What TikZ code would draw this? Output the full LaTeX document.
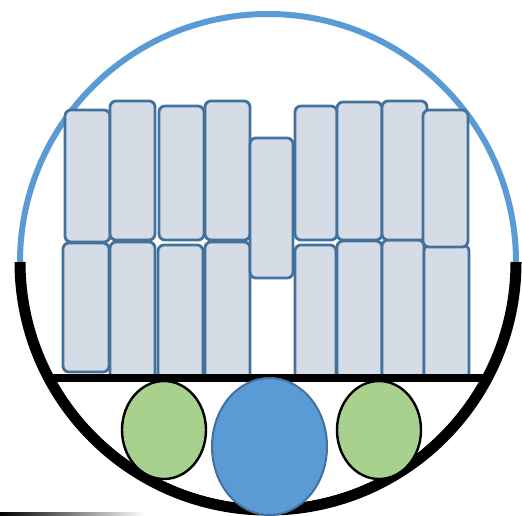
\documentclass[tikz,border=0pt]{standalone}
\definecolor{arcblue}{HTML}{5B9BD5}
\definecolor{cellfill}{HTML}{D6DCE5}
\definecolor{cellborder}{HTML}{41719C}
\definecolor{cellgreen}{HTML}{A9D18E}
\definecolor{nucblue}{HTML}{5B9BD5}
\begin{document}
\begin{tikzpicture}[x=1pt,y=-1pt,
  cellbox/.style={draw=cellborder, fill=cellfill, line width=2.8pt, rounded corners=6pt},
  greenell/.style={draw=black, fill=cellgreen, line width=2.4pt},
  blueell/.style={draw=cellborder, fill=nucblue, line width=2pt}]
\useasboundingbox (0,0) rectangle (522,515);
% outer circle
\draw[arcblue, line width=6pt] (20,262) arc[start angle=180, end angle=0, radius=248pt];
\draw[black, line width=11pt] (20,262) arc[start angle=180, end angle=360, radius=248pt];
% bottom row of cells
\draw[cellbox] (63,243) rectangle (109,372);
\draw[cellbox] (110,242) rectangle (155,386);
\draw[cellbox] (158,245) rectangle (203,386);
\draw[cellbox] (205,242) rectangle (250,386);
\draw[cellbox] (295,245) rectangle (336,386);
\draw[cellbox] (337,241) rectangle (382,386);
\draw[cellbox] (382,240) rectangle (424,386);
\draw[cellbox] (424,245) rectangle (469,386);
% top row of cells
\draw[cellbox] (65,110) rectangle (110,242);
\draw[cellbox] (110,101) rectangle (155,240);
\draw[cellbox] (159,106) rectangle (204,240);
\draw[cellbox] (205,101) rectangle (250,240);
\draw[cellbox] (250,138) rectangle (293,278);
\draw[cellbox] (295,106) rectangle (337,240);
\draw[cellbox] (337,102) rectangle (382,240);
\draw[cellbox] (382,101) rectangle (427,240);
\draw[cellbox] (423,110) rectangle (468,247);
% white cover below the line, inside circle
\begin{scope}
\clip (268,262) circle[radius=242pt];
\fill[white] (0,382) rectangle (522,515);
\end{scope}
% horizontal line
\draw[black, line width=8pt] (49,378) -- (487,378);
% ellipses
\draw[greenell] (164,430) ellipse[x radius=42pt, y radius=49pt];
\draw[greenell] (379,430) ellipse[x radius=42pt, y radius=49pt];
\draw[blueell] (269.5,446.5) ellipse[x radius=57.5pt, y radius=68.5pt];
% faint line at bottom left
\shade[left color=black, right color=white] (0,512.5) rectangle (145,515);
\end{tikzpicture}
\end{document}
